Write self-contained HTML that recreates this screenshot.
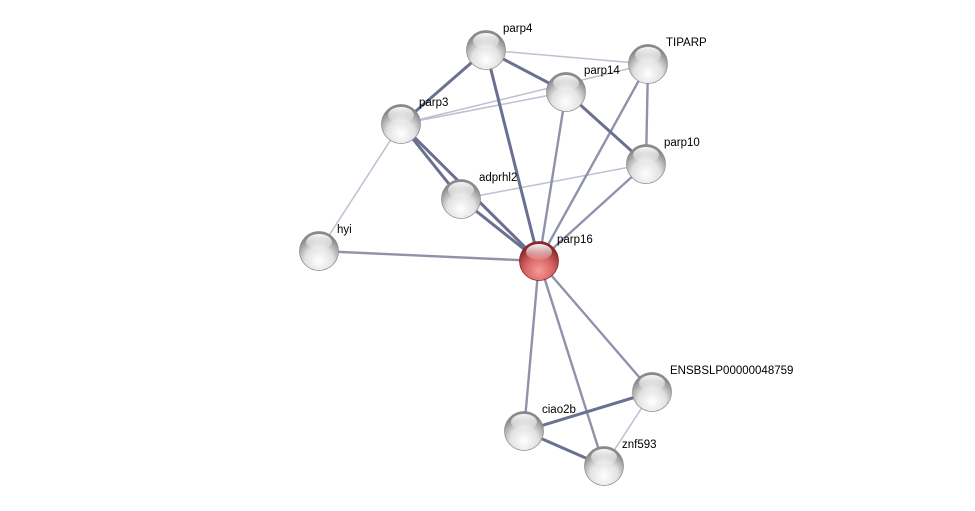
<!DOCTYPE html>
<html><head><meta charset="utf-8"><style>
html,body{margin:0;padding:0;background:#fff;}
svg{display:block;}
text{font-family:"Liberation Sans",Arial,sans-serif;font-size:11.5px;fill:#000;}
</style></head><body>
<svg width="975" height="511" viewBox="0 0 975 511" xmlns="http://www.w3.org/2000/svg">
<defs>
<radialGradient id="g" cx="50%" cy="75%" r="65%">
<stop offset="0" stop-color="#ffffff"/><stop offset="0.55" stop-color="#e2e2e2"/><stop offset="1" stop-color="#8a8a8a"/>
</radialGradient>
<radialGradient id="r" cx="50%" cy="75%" r="65%">
<stop offset="0" stop-color="#f59a9a"/><stop offset="0.55" stop-color="#d86464"/><stop offset="1" stop-color="#8a2a2a"/>
</radialGradient>
<linearGradient id="h" x1="0" y1="0" x2="0" y2="1">
<stop offset="0" stop-color="#fff" stop-opacity="0.95"/><stop offset="1" stop-color="#fff" stop-opacity="0.1"/>
</linearGradient>
<g id="hl"><ellipse cx="0" cy="-9" rx="13" ry="8" fill="url(#h)"/></g>
</defs>
<g stroke-linecap="round">
<g stroke="#bcc0d0" stroke-width="1.5">
<line x1="486" y1="50" x2="648" y2="64"/>
<line x1="401" y1="124" x2="566" y2="92"/>
<line x1="401" y1="124" x2="648" y2="64"/>
<line x1="646" y1="164" x2="461" y2="199"/>
<line x1="401" y1="124" x2="319" y2="251"/>
<line x1="652" y1="392" x2="604" y2="466"/>
</g>
<g stroke="#8e93ab" stroke-width="2.4">
<line x1="648" y1="64" x2="646" y2="164"/>
<line x1="648" y1="64" x2="539" y2="261"/>
<line x1="646" y1="164" x2="539" y2="261"/>
<line x1="319" y1="251" x2="539" y2="261"/>
<line x1="539" y1="261" x2="652" y2="392"/>
<line x1="539" y1="261" x2="524" y2="431"/>
<line x1="539" y1="261" x2="604" y2="466"/>
<line x1="566" y1="92" x2="539" y2="261"/>
</g>
<g stroke="#6a7090" stroke-width="3">
<line x1="486" y1="50" x2="566" y2="92"/>
<line x1="486" y1="50" x2="401" y2="124"/>
<line x1="486" y1="50" x2="539" y2="261"/>
<line x1="566" y1="92" x2="646" y2="164"/>
<line x1="401" y1="124" x2="461" y2="199"/>
<line x1="401" y1="124" x2="539" y2="261"/>
<line x1="461" y1="199" x2="539" y2="261"/>
<line x1="524" y1="431" x2="652" y2="392"/>
<line x1="524" y1="431" x2="604" y2="466"/>
</g>
</g>
<g stroke="#888" stroke-width="0.7">
<circle cx="486" cy="50" r="19.5" fill="url(#g)"/>
<circle cx="648" cy="64" r="19.5" fill="url(#g)"/>
<circle cx="566" cy="92" r="19.5" fill="url(#g)"/>
<circle cx="401" cy="124" r="19.5" fill="url(#g)"/>
<circle cx="646" cy="164" r="19.5" fill="url(#g)"/>
<circle cx="461" cy="199" r="19.5" fill="url(#g)"/>
<circle cx="319" cy="251" r="19.5" fill="url(#g)"/>
<circle cx="539" cy="261" r="19.5" fill="url(#r)" stroke="#802020"/>
<circle cx="652" cy="392" r="19.5" fill="url(#g)"/>
<circle cx="524" cy="431" r="19.5" fill="url(#g)"/>
<circle cx="604" cy="466" r="19.5" fill="url(#g)"/>
</g>
<use href="#hl" x="486" y="50"/><use href="#hl" x="648" y="64"/><use href="#hl" x="566" y="92"/>
<use href="#hl" x="401" y="124"/><use href="#hl" x="646" y="164"/><use href="#hl" x="461" y="199"/>
<use href="#hl" x="319" y="251"/><use href="#hl" x="539" y="261"/><use href="#hl" x="652" y="392"/>
<use href="#hl" x="524" y="431"/><use href="#hl" x="604" y="466"/>
<text x="503" y="32">parp4</text>
<text x="666" y="46">TIPARP</text>
<text x="584" y="74">parp14</text>
<text x="419" y="106">parp3</text>
<text x="664" y="146">parp10</text>
<text x="479" y="181">adprhl2</text>
<text x="337" y="233">hyi</text>
<text x="557" y="243">parp16</text>
<text x="670" y="374">ENSBSLP00000048759</text>
<text x="542" y="413">ciao2b</text>
<text x="622" y="448">znf593</text>
</svg>
</body></html>
